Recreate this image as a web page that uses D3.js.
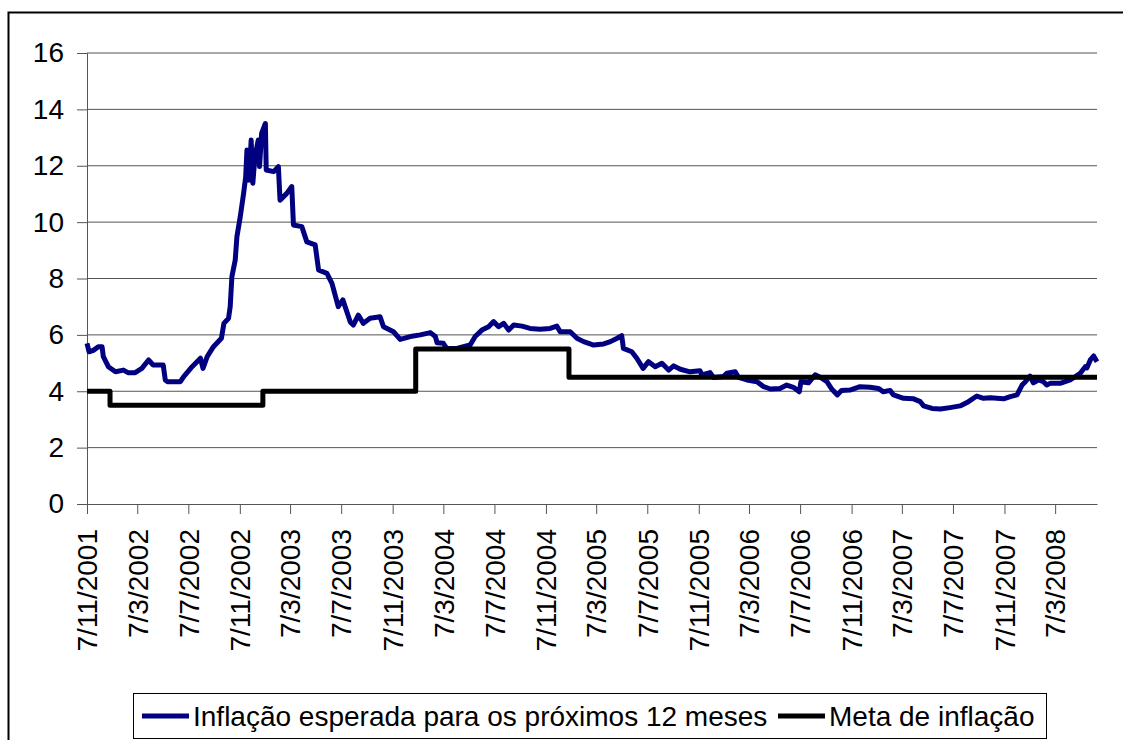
<!DOCTYPE html>
<html>
<head>
<meta charset="utf-8">
<script src="https://cdn.jsdelivr.net/npm/d3@7"></script>
<style>
  body { margin: 0; background: #fff; }
  svg { display: block; font-family: "Liberation Sans", Arial, sans-serif; }
  .grid line { stroke: #555; stroke-width: 1; }
</style>
</head>
<body>
<svg id="chart" width="1123" height="740"></svg>
<script>
// Inflação esperada para os próximos 12 meses
const expDates = [
  "2001-11-07","2001-11-12","2001-11-22","2001-12-04","2001-12-13","2001-12-16","2001-12-28",
  "2002-01-14","2002-02-02","2002-02-13","2002-03-02","2002-03-18","2002-04-03","2002-04-14",
  "2002-05-08","2002-05-13","2002-05-18","2002-06-18","2002-06-26","2002-07-16","2002-08-05",
  "2002-08-11","2002-08-21","2002-09-05","2002-09-24","2002-09-30","2002-10-11","2002-10-15",
  "2002-10-19","2002-10-27","2002-10-31","2002-11-08","2002-11-16","2002-11-21","2002-11-24",
  "2002-11-29","2002-12-04","2002-12-08","2002-12-13","2002-12-21","2002-12-24","2002-12-29",
  "2003-01-07","2003-01-09","2003-01-27","2003-02-07","2003-02-11","2003-02-27","2003-03-11",
  "2003-03-15","2003-04-04","2003-04-16","2003-05-06","2003-05-14","2003-06-03","2003-06-15",
  "2003-06-30","2003-07-11","2003-07-29","2003-08-05","2003-08-17","2003-08-29","2003-09-14",
  "2003-10-08","2003-10-16","2003-11-09","2003-11-25","2003-12-19","2004-01-12","2004-02-05",
  "2004-02-17","2004-02-21","2004-03-07","2004-03-15","2004-04-08","2004-05-10","2004-05-22",
  "2004-06-07","2004-06-23","2004-07-05","2004-07-17","2004-07-29","2004-08-10","2004-08-22",
  "2004-09-11","2004-09-30","2004-10-24","2004-11-17","2004-12-03","2004-12-11","2005-01-04",
  "2005-01-20","2005-02-05","2005-03-01","2005-03-25","2005-04-10","2005-04-26","2005-05-07",
  "2005-05-11","2005-05-31","2005-06-12","2005-06-27","2005-07-10","2005-07-26","2005-08-11",
  "2005-08-27","2005-09-08","2005-09-24","2005-10-17","2005-11-10","2005-11-14","2005-12-04",
  "2005-12-12","2006-01-05","2006-01-13","2006-02-02","2006-02-10","2006-03-02","2006-03-26",
  "2006-04-11","2006-04-27","2006-05-20","2006-06-05","2006-06-21","2006-07-05","2006-07-09",
  "2006-07-27","2006-08-12","2006-08-24","2006-09-09","2006-09-21","2006-10-04","2006-10-14",
  "2006-11-03","2006-11-27","2006-12-21","2007-01-10","2007-01-22","2007-02-07","2007-02-15",
  "2007-03-11","2007-04-04","2007-04-20","2007-04-28","2007-05-18","2007-06-07","2007-06-30",
  "2007-07-24","2007-08-13","2007-09-02","2007-09-18","2007-10-04","2007-10-20","2007-11-05",
  "2007-11-21","2007-12-07","2007-12-19","2007-12-27","2008-01-07","2008-01-15","2008-01-27",
  "2008-02-08","2008-02-16","2008-02-24","2008-03-19","2008-04-12","2008-05-06","2008-05-18",
  "2008-05-22","2008-05-30","2008-06-07","2008-06-15"
];
const expValues = [
  5.70,5.40,5.45,5.58,5.58,5.23,4.87,
  4.69,4.75,4.66,4.66,4.81,5.11,4.93,
  4.93,4.40,4.34,4.34,4.52,4.87,5.17,
  4.81,5.23,5.58,5.88,6.41,6.59,7.00,
  8.06,8.66,9.48,10.19,11.02,11.61,12.56,
  11.49,12.91,11.38,12.32,12.91,11.97,13.15,
  13.50,11.85,11.79,11.97,10.78,11.02,11.26,
  9.90,9.84,9.30,9.19,8.30,8.18,7.83,
  7.00,7.24,6.45,6.35,6.70,6.41,6.59,
  6.64,6.29,6.11,5.84,5.94,6.00,6.08,
  5.94,5.72,5.70,5.52,5.52,5.64,5.94,
  6.17,6.29,6.47,6.29,6.41,6.17,6.35,
  6.31,6.23,6.20,6.23,6.31,6.11,6.11,
  5.88,5.76,5.64,5.68,5.76,5.88,5.97,
  5.52,5.40,5.17,4.81,5.05,4.87,4.99,
  4.75,4.90,4.78,4.69,4.73,4.58,4.66,
  4.49,4.52,4.64,4.69,4.49,4.40,4.34,
  4.16,4.08,4.10,4.22,4.14,3.98,4.34,
  4.30,4.58,4.50,4.34,4.07,3.87,4.03,
  4.04,4.16,4.14,4.10,3.98,4.03,3.87,
  3.75,3.73,3.63,3.48,3.39,3.37,3.42,
  3.48,3.63,3.83,3.75,3.77,3.75,3.73,
  3.81,3.87,4.22,4.34,4.54,4.30,4.40,
  4.34,4.22,4.28,4.28,4.40,4.64,4.87,
  4.83,5.11,5.25,5.05
];

// Meta de inflação (step series)
const targetDates = ["2001-11-07","2002-01-01","2003-01-01","2004-01-01","2005-01-01","2008-06-15"];
const targetValues = [4, 3.5, 4, 5.5, 4.5, 4.5];

const xTickLabels = [
  "7/11/2001","7/3/2002","7/7/2002","7/11/2002","7/3/2003","7/7/2003","7/11/2003",
  "7/3/2004","7/7/2004","7/11/2004","7/3/2005","7/7/2005","7/11/2005","7/3/2006",
  "7/7/2006","7/11/2006","7/3/2007","7/7/2007","7/11/2007","7/3/2008"
];
const yTicks = [0, 2, 4, 6, 8, 10, 12, 14, 16];

const seriesNames = ["Inflação esperada para os próximos 12 meses", "Meta de inflação"];
const seriesColors = ["#000080", "#000000"];

const parseIso = d3.timeParse("%Y-%m-%d");
const parseLabel = d3.timeParse("%d/%m/%Y");

const expData = expDates.map((d, i) => ({ date: parseIso(d), value: expValues[i] }));
const targetData = targetDates.map((d, i) => ({ date: parseIso(d), value: targetValues[i] }));

const svg = d3.select("#chart");
const plot = { left: 87, right: 1097, top: 53, bottom: 504 };
const fontSize = "28px";

// chart frame (runs off the right/bottom edge like the original)
svg.append("rect")
  .attr("x", 8.5).attr("y", 12.5)
  .attr("width", 1200).attr("height", 800)
  .attr("fill", "#fff")
  .attr("stroke", "#000")
  .attr("stroke-width", 2);

const x = d3.scaleTime()
  .domain([parseIso("2001-11-07"), parseIso("2008-06-15")])
  .range([plot.left, plot.right]);

const y = d3.scaleLinear()
  .domain([0, 16])
  .range([plot.bottom, plot.top]);

// horizontal gridlines
svg.append("g")
  .attr("class", "grid")
  .selectAll("line")
  .data(yTicks.filter(d => d > 0))
  .join("line")
    .attr("x1", plot.left).attr("x2", plot.right)
    .attr("y1", d => y(d)).attr("y2", d => y(d));

// y axis
const yAxis = svg.append("g")
  .attr("transform", `translate(${plot.left},0)`)
  .call(d3.axisLeft(y).tickValues(yTicks).tickSize(10).tickPadding(13));
yAxis.select(".domain").attr("stroke", "#555");
yAxis.selectAll(".tick line").attr("stroke", "#555");
yAxis.selectAll("text")
  .attr("fill", "#000")
  .style("font-size", fontSize)
  .style("font-family", "'Liberation Sans', Arial, sans-serif");

// x axis
const xAxis = svg.append("g")
  .attr("transform", `translate(0,${plot.bottom})`)
  .call(d3.axisBottom(x)
    .tickValues(xTickLabels.map(parseLabel))
    .tickFormat(d3.timeFormat("%-d/%-m/%Y"))
    .tickSize(10)
    .tickSizeOuter(0));
xAxis.select(".domain").attr("stroke", "#555");
xAxis.selectAll(".tick line").attr("stroke", "#555");
xAxis.selectAll("text")
  .attr("fill", "#000")
  .attr("transform", "rotate(-90)")
  .attr("text-anchor", "end")
  .attr("x", -25)
  .attr("y", 0)
  .attr("dy", "0.35em")
  .style("font-size", fontSize)
  .style("font-family", "'Liberation Sans', Arial, sans-serif");

// lines
const line = d3.line()
  .x(d => x(d.date))
  .y(d => y(d.value));

svg.append("path")
  .datum(expData)
  .attr("fill", "none")
  .attr("stroke", seriesColors[0])
  .attr("stroke-width", 5)
  .attr("stroke-linejoin", "round")
  .attr("d", line);

svg.append("path")
  .datum(targetData)
  .attr("fill", "none")
  .attr("stroke", seriesColors[1])
  .attr("stroke-width", 5)
  .attr("stroke-linejoin", "round")
  .attr("d", line.curve(d3.curveStepAfter));

// legend
const legend = svg.append("g");
legend.append("rect")
  .attr("x", 133.5).attr("y", 693.5)
  .attr("width", 913).attr("height", 45)
  .attr("fill", "#fff")
  .attr("stroke", "#000")
  .attr("stroke-width", 1);

const legendX = [142, 778];
seriesNames.forEach((name, i) => {
  legend.append("line")
    .attr("x1", legendX[i]).attr("x2", legendX[i] + 47)
    .attr("y1", 716).attr("y2", 716)
    .attr("stroke", seriesColors[i])
    .attr("stroke-width", 5);
  legend.append("text")
    .attr("x", legendX[i] + 51)
    .attr("y", 726)
    .style("font-size", fontSize)
    .text(name);
});
</script>
</body>
</html>
